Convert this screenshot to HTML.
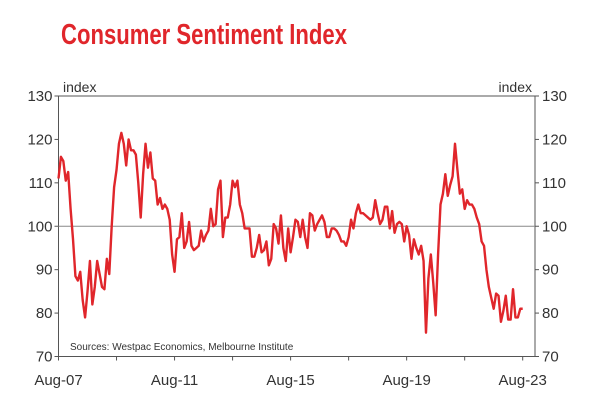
<!DOCTYPE html>
<html><head><meta charset="utf-8"><style>
html,body{margin:0;padding:0;background:#fff;}
svg{display:block;font-family:"Liberation Sans",Arial,sans-serif;}
</style></head><body>
<svg id="chart" width="600" height="405" viewBox="0 0 600 405">
<text x="61" y="44" font-size="29" font-weight="bold" fill="#e0262b" textLength="286" lengthAdjust="spacingAndGlyphs">Consumer Sentiment Index</text>
<g id="axes"></g>
<g id="plot"></g>
</svg>
<script>
const yTicks=[70,80,90,100,110,120,130];
const xTickLabels=["Aug-07","Aug-11","Aug-15","Aug-19","Aug-23"];
const startYear=2007, startMonth=7; // Aug 2007 (0-based month)
const sentiment=[
111,116,115,110.5,112.5,
104,97,88.5,87.5,89.5,83,79,85,92,82,86,92,
89,86,85.5,92.5,89,100,109,113,119,121.5,119,114,
120,117.5,117.5,116.5,110,102,112,119,113.5,117,111,110.5,
105,106.5,104,105,104,101.5,93.5,89.5,97,97.5,103,95,
96.5,101,95.5,94.5,95,95.5,99,96.5,98,99,104,100,
100.5,108.5,110.5,97.5,102,102,105,110.5,109,110.5,105,103,
99.5,99.5,99.5,93,93,95,98,94,94.5,96.5,91,92.5,
100.5,99.5,96,102.5,95,92,99.5,94,97.5,101.5,101,97.5,
101.5,97.5,95,103,102.5,99,100.5,101.5,102.5,101,97.5,97.5,
99.5,99.5,99,98,96.5,96.5,95.5,97.5,101.5,99.5,103,105,
103,103,102.5,102,101.5,102,106,103,100.5,101.5,104.5,104.5,
99.5,103.5,98.5,100.5,101,100.5,96.5,100,98,92.5,97,95,
93.5,95.5,92,75.5,88,93.5,87,79.5,93.5,105,107.5,112,
107,109.5,111.5,119,113,107.5,108.5,104,106,105,105,104,
102,100.5,96.5,95.5,90,86,83.5,81,84.5,84,78,80.5,
84,78.5,78.5,85.5,79,79,81,81
];
const L=58.5,R=535,T=96,B=356.5;
const x0=58.5, pxPerMonth=(522.7-58.5)/192;
function xScale(i){return x0+i*pxPerMonth;}
function yScale(v){return B-(v-70)/60*(B-T);}
const NS="http://www.w3.org/2000/svg";
const axes=document.getElementById('axes'), plot=document.getElementById('plot');
function mk(tag,attrs,parent){const e=document.createElementNS(NS,tag);for(const k in attrs)e.setAttribute(k,attrs[k]);parent.appendChild(e);return e;}
// frame
let f=mk('path',{d:`M${L},${B}V${T}H${R}V${B}`,fill:'none',stroke:'#555','stroke-width':1},axes);


let bx=mk('line',{x1:L,x2:R,y1:B,y2:B,stroke:'#555','stroke-width':1},axes);


let g=mk('line',{x1:L,x2:R,y1:yScale(100),y2:yScale(100),stroke:'#888','stroke-width':1},axes);


yTicks.forEach(v=>{
  const y=yScale(v);
  let tl=mk('line',{x1:L-4,x2:L,y1:y,y2:y,stroke:'#555'},axes);
  
  
  let tr=mk('line',{x1:R,x2:R+4,y1:y,y2:y,stroke:'#555'},axes);
  
  
  let a=mk('text',{x:L-6,y:y+5,'text-anchor':'end','font-size':15,fill:'#333'},axes);a.textContent=v;
  
  
  let b=mk('text',{x:R+7,y:y+5,'text-anchor':'start','font-size':15,fill:'#333'},axes);b.textContent=v;
  
  
});
for(let k=0;k<=8;k++){
  const x=xScale(k*24);
  let t=mk('line',{x1:x,x2:x,y1:B,y2:B+4,stroke:'#555'},axes);
  
  
}
xTickLabels.forEach((s,k)=>{
  let t=mk('text',{x:xScale(k*48),y:385,'text-anchor':'middle','font-size':15,fill:'#333'},axes);t.textContent=s;
  
  
});
let il=mk('text',{x:63,y:92,'font-size':14,fill:'#333'},axes);il.textContent='index';


let ir=mk('text',{x:532,y:92,'text-anchor':'end','font-size':14,fill:'#333'},axes);ir.textContent='index';


let src=mk('text',{x:70,y:350,'font-size':10,fill:'#333'},axes);src.textContent='Sources: Westpac Economics, Melbourne Institute';


const d=sentiment.map((v,i)=>(i?'L':'M')+xScale(i).toFixed(2)+','+yScale(v).toFixed(2)).join('');
let line=mk('path',{d:d,fill:'none',stroke:'#e0262b','stroke-width':2.4,'stroke-linejoin':'round'},plot);


</script>
</body></html>
